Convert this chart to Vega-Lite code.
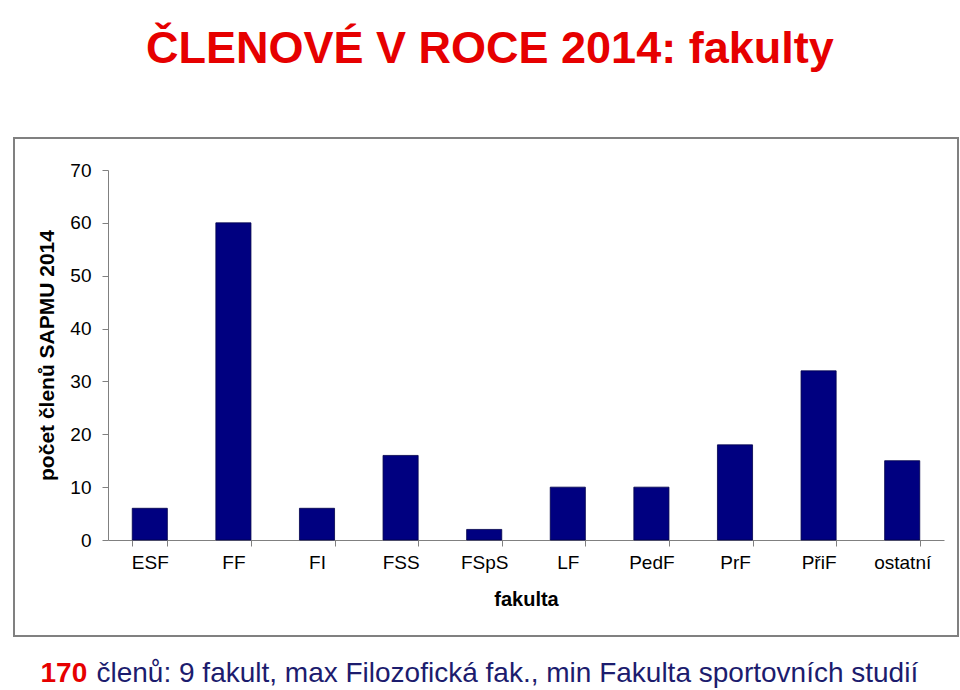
{
  "$schema": "https://vega.github.io/schema/vega-lite/v6.json",
  "padding": {"left": 13, "top": 27, "right": 2, "bottom": 0},
  "background": "white",
  "title": {
    "text": "ČLENOVÉ V ROCE 2014: fakulty",
    "anchor": "start",
    "dx": 133,
    "offset": 65,
    "font": "Liberation Sans",
    "fontSize": 45,
    "fontWeight": "bold",
    "color": "#e60000"
  },
  "spacing": 22,
  "vconcat": [
    {
      "width": 944,
      "height": 498,
      "view": {"stroke": "#808080", "strokeWidth": 2},
      "data": {
        "values": [
          {"fakulta": "ESF", "pocet": 6},
          {"fakulta": "FF", "pocet": 60},
          {"fakulta": "FI", "pocet": 6},
          {"fakulta": "FSS", "pocet": 16},
          {"fakulta": "FSpS", "pocet": 2},
          {"fakulta": "LF", "pocet": 10},
          {"fakulta": "PedF", "pocet": 10},
          {"fakulta": "PrF", "pocet": 18},
          {"fakulta": "PřiF", "pocet": 32},
          {"fakulta": "ostatní", "pocet": 15}
        ]
      },
      "mark": {"type": "bar", "fill": "#000080", "stroke": "#00004a", "strokeWidth": 0.8},
      "encoding": {
        "x": {
          "field": "fakulta",
          "type": "nominal",
          "sort": null,
          "scale": {"range": [94, 930], "paddingInner": 0.58, "paddingOuter": 0.29},
          "axis": {
            "title": "fakulta",
            "offset": -96,
            "labelAngle": 0,
            "tickBand": "extent",
            "tickSize": 6,
            "tickColor": "#808080",
            "domainColor": "#808080",
            "labelPadding": 7,
            "labelFont": "Liberation Sans",
            "labelFontSize": 19,
            "labelColor": "#000000",
            "titleFont": "Liberation Sans",
            "titleFontSize": 20,
            "titleFontWeight": "bold",
            "titleColor": "#000000",
            "titlePadding": 17
          }
        },
        "y": {
          "field": "pocet",
          "type": "quantitative",
          "scale": {"domain": [0, 70], "nice": false, "zero": true, "range": [402, 32]},
          "axis": {
            "title": "počet členů SAPMU 2014",
            "offset": -94,
            "values": [0, 10, 20, 30, 40, 50, 60, 70],
            "grid": false,
            "tickSize": 6,
            "tickColor": "#808080",
            "domainColor": "#808080",
            "labelPadding": 11,
            "labelFont": "Liberation Sans",
            "labelFontSize": 19,
            "labelColor": "#000000",
            "titleFont": "Liberation Sans",
            "titleFontSize": 21,
            "titleFontWeight": "bold",
            "titleColor": "#000000",
            "titlePadding": 12
          }
        }
      }
    },
    {
      "spacing": 8,
      "hconcat": [
        {
          "width": 1,
          "height": 1,
          "view": {"stroke": null},
          "data": {"values": [{}]},
          "mark": {"type": "rule", "opacity": 0},
          "encoding": {},
          "title": {
            "text": "170",
            "anchor": "start",
            "dx": 27,
            "offset": 0,
            "font": "Liberation Sans",
            "fontSize": 28,
            "fontWeight": "bold",
            "color": "#e60000"
          }
        },
        {
          "width": 1,
          "height": 1,
          "view": {"stroke": null},
          "data": {"values": [{}]},
          "mark": {"type": "rule", "opacity": 0},
          "encoding": {},
          "title": {
            "text": "členů: 9 fakult, max Filozofická fak., min Fakulta sportovních studií",
            "anchor": "start",
            "dx": 0,
            "offset": 0,
            "font": "Liberation Sans",
            "fontSize": 28,
            "fontWeight": "normal",
            "color": "#1c1c6e"
          }
        }
      ]
    }
  ]
}
